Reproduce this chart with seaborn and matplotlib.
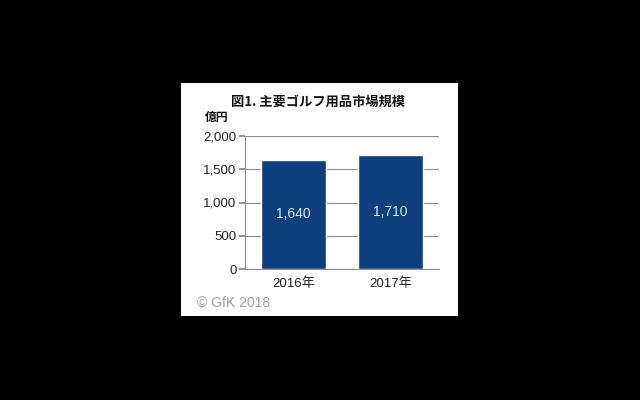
import matplotlib
matplotlib.use("Agg")
import matplotlib.pyplot as plt
import seaborn as sns
import pandas as pd
from matplotlib.patches import Rectangle

years = ["2016年", "2017年"]
market_size = [1640, 1710]  # 億円
y_ticks = [0, 500, 1000, 1500, 2000]

title = "図1. 主要ゴルフ用品市場規模"
unit_label = "億円"
credit = "© GfK 2018"

BAR_COLOR = "#0d3f7e"

sns.set_theme(style="white")
# Arial-like digits, CJK glyphs from Noto
plt.rcParams["font.family"] = ["Liberation Sans", "Noto Sans CJK JP", "DejaVu Sans"]

df = pd.DataFrame({"year": years, "value": market_size})

fig = plt.figure(figsize=(6.4, 4.0), dpi=100, facecolor="black")
# white card behind the chart
fig.patches.append(Rectangle((181 / 640, 1 - 316 / 400), 277 / 640, 233 / 400,
                             transform=fig.transFigure, facecolor="white",
                             edgecolor="none", zorder=-10))

ax = fig.add_axes([245 / 640, 1 - 269 / 400, 194 / 640, 133 / 400])
ax.set_facecolor("white")
sns.barplot(data=df, x="year", y="value", color=BAR_COLOR, width=0.67,
            saturation=1, ax=ax, zorder=3)

ax.set_ylim(0, 2000)
ax.set_xlim(-0.5, 1.5)
ax.set_yticks(y_ticks)
ax.set_yticklabels([f"{v:,}" for v in y_ticks], fontsize=9.5, color="#222222")
ax.tick_params(axis="x", labelsize=9.5, colors="#222222", length=0, pad=6)
ax.tick_params(axis="y", length=4, color="#888888", pad=2, left=True)
ax.yaxis.grid(True, color="#8c8c8c", linewidth=0.8, zorder=0)
ax.set_axisbelow(True)
ax.set_xlabel("")
ax.set_ylabel("")
for side in ["top", "right"]:
    ax.spines[side].set_visible(False)
for side in ["left", "bottom"]:
    ax.spines[side].set_color("#8c8c8c")
    ax.spines[side].set_linewidth(0.8)

for i, v in enumerate(market_size):
    ax.text(i, v / 2, f"{v:,}", ha="center", va="center", fontsize=10,
            color="#dde9f6", zorder=4)

fig.text(318 / 640, 1 - 102 / 400, title, ha="center", va="center",
         fontsize=9.5, fontweight="bold", color="#111111",
         family=["Noto Sans CJK JP", "DejaVu Sans"])
fig.text(205 / 640, 1 - 117 / 400, unit_label, ha="left", va="center",
         fontsize=8.5, fontweight="bold", color="#111111",
         family=["Noto Sans CJK JP", "DejaVu Sans"])
fig.text(197 / 640, 1 - 303 / 400, credit, ha="left", va="center",
         fontsize=10, color="#a0a0a0")

fig.savefig("out.png", dpi=100, facecolor="black")
